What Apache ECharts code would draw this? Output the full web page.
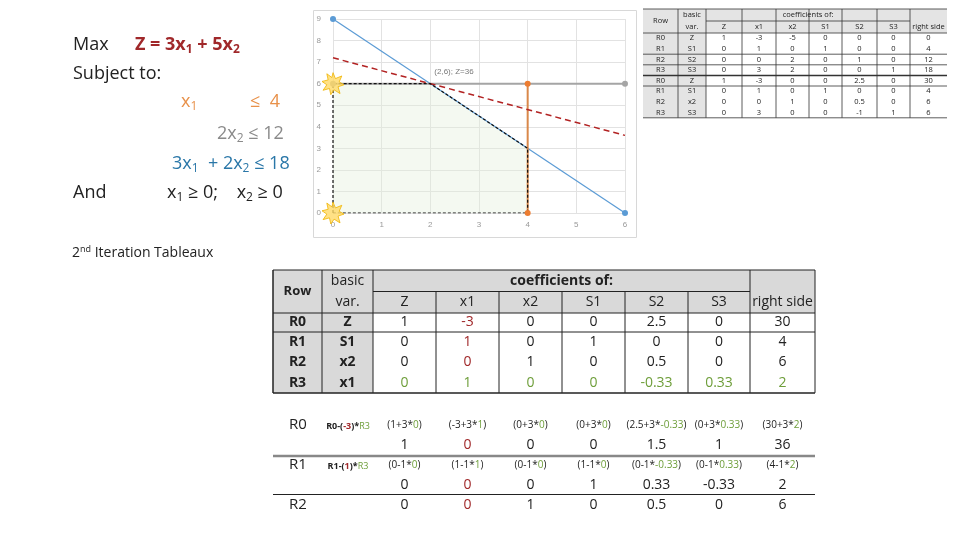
<!DOCTYPE html>
<html>
<head>
<meta charset="utf-8">
<script src="https://cdn.jsdelivr.net/npm/echarts@6/dist/echarts.min.js"></script>
<style>html,body{margin:0;padding:0;background:#fff}#main{width:960px;height:540px}</style>
</head>
<body>
<div id="main"></div>
<script>
// constraint lines in the x1/x2 plane
var blueLine = [[0, 9], [6, 0]];          // 3x1 + 2x2 = 18
var grayLine = [[0, 6], [6, 6]];          // 2x2 = 12
var orangeLine = [[4, 0], [4, 6]];        // x1 = 4
var zLine = [[0, 7.2], [6, 3.6]];         // 3x1 + 5x2 = 36
var feasible = [[0, 0], [0, 6], [2, 6], [4, 3], [4, 0], [0, 0]];
var feasibleTop = [[0, 6], [2, 6], [4, 3], [4, 0]];
var stars = [[0, 6], [0, 0]];

// small tableau (top right)
var smallHead = ['Z', 'x1', 'x2', 'S1', 'S2', 'S3', 'right side'];
var smallRows = [
  ['R0', 'Z', '1', '-3', '-5', '0', '0', '0', '0'],
  ['R1', 'S1', '0', '1', '0', '1', '0', '0', '4'],
  ['R2', 'S2', '0', '0', '2', '0', '1', '0', '12'],
  ['R3', 'S3', '0', '3', '2', '0', '0', '1', '18'],
  ['R0', 'Z', '1', '-3', '0', '0', '2.5', '0', '30'],
  ['R1', 'S1', '0', '1', '0', '1', '0', '0', '4'],
  ['R2', 'x2', '0', '0', '1', '0', '0.5', '0', '6'],
  ['R3', 'S3', '0', '3', '0', '0', '-1', '1', '6']
];

// 2nd iteration tableau
var midRows = [
  ['R0', 'Z', '1', '-3', '0', '0', '2.5', '0', '30'],
  ['R1', 'S1', '0', '1', '0', '1', '0', '0', '4'],
  ['R2', 'x2', '0', '0', '1', '0', '0.5', '0', '6'],
  ['R3', 'x1', '0', '1', '0', '0', '-0.33', '0.33', '2']
];
var r0Formula = ['(1+3*{g|0})', '(-3+3*{g|1})', '(0+3*{g|0})', '(0+3*{g|0})', '(2.5+3*{g|-0.33})', '(0+3*{g|0.33})', '(30+3*{g|2})'];
var r0Values = ['1', '0', '0', '0', '1.5', '1', '36'];
var r1Formula = ['(0-1*{g|0})', '(1-1*{g|1})', '(0-1*{g|0})', '(1-1*{g|0})', '(0-1*{g|-0.33})', '(0-1*{g|0.33})', '(4-1*{g|2})'];
var r1Values = ['0', '0', '0', '1', '0.33', '-0.33', '2'];
var r2Values = ['0', '0', '1', '0', '0.5', '0', '6'];

var RED = '#a0282a', GREEN = '#6e9e3a', FONT = 'Open Sans';
var g = [];

function txt(x, y, s, opt) {
  opt = opt || {};
  g.push({
    type: 'text', x: x, y: y, z: 10,
    style: Object.assign({
      text: s, fontFamily: FONT, fontSize: 14, fill: '#222',
      align: 'center', verticalAlign: 'middle'
    }, opt)
  });
}
function rect(x, y, w, h, fill, stroke, lw) {
  g.push({ type: 'rect', z: 5, shape: { x: x, y: y, width: w, height: h },
    style: { fill: fill || 'none', stroke: stroke || 'none', lineWidth: lw || 1 } });
}
function line(x1, y1, x2, y2, c, lw) {
  g.push({ type: 'line', z: 6, shape: { x1: x1, y1: y1, x2: x2, y2: y2 }, style: { stroke: c, lineWidth: lw || 1 } });
}

// ---- left text
var sub = { fontSize: 12, padding: [9, 0, 0, 0] };
txt(73, 45, 'Max', { align: 'left', fontSize: 18 });
txt(135, 45, '{r|Z = 3x}{rs|1}{r| + 5x}{rs|2}', { align: 'left', fontSize: 18,
  rich: { r: { fill: RED, fontWeight: 'bold', fontSize: 18, fontFamily: FONT }, rs: Object.assign({ fill: RED, fontWeight: 'bold', fontFamily: FONT }, sub) } });
txt(73, 74, 'Subject to:', { align: 'left', fontSize: 18 });
txt(181, 102, '{o|x}{os|1}', { align: 'left', rich: { o: { fill: '#e8914a', fontSize: 18, fontFamily: FONT }, os: Object.assign({ fill: '#e8914a', fontFamily: FONT }, sub) } });
txt(250, 102, '≤  4', { align: 'left', fontSize: 18, fill: '#e8914a' });
txt(217, 134, '{o|2x}{os|2}{o| ≤ 12}', { align: 'left', rich: { o: { fill: '#8a8a8a', fontSize: 18, fontFamily: FONT }, os: Object.assign({ fill: '#8a8a8a', fontFamily: FONT }, sub) } });
txt(172, 164, '{o|3x}{os|1}{o|  + 2x}{os|2}{o| ≤ 18}', { align: 'left', rich: { o: { fill: '#2a77a8', fontSize: 18, fontFamily: FONT }, os: Object.assign({ fill: '#2a77a8', fontFamily: FONT }, sub) } });
txt(73, 193, 'And', { align: 'left', fontSize: 18 });
txt(167, 193, '{o|x}{os|1}{o| ≥ 0;    x}{os|2}{o| ≥ 0}', { align: 'left', rich: { o: { fill: '#222', fontSize: 18, fontFamily: FONT }, os: Object.assign({ fill: '#222', fontFamily: FONT }, sub) } });
txt(72, 253, '2{sp|nd} Iteration Tableaux', { align: 'left', fontSize: 14,
  rich: { sp: { fontSize: 9, padding: [0, 0, 7, 0], fontFamily: FONT } } });

// ---- chart frame
rect(313.5, 10.5, 323, 227, 'none', '#d8d8d8', 1);

// ---- small tableau
(function () {
  var cx = [643, 678, 706, 742, 776, 809, 842, 877, 910, 947];
  var y0 = 9, hh = 12, rh = 10.6;
  var fs = 7.5;
  rect(cx[0], y0, cx[9] - cx[0], hh * 2, '#e4e4e4');
  rect(cx[0], y0 + hh * 2, cx[2] - cx[0], rh * 8, '#e4e4e4');
  rect(cx[2], y0 + hh * 2 + rh * 4, cx[9] - cx[2], rh, '#ffffff');
  txt((cx[0] + cx[1]) / 2, y0 + hh, 'Row', { fontSize: fs });
  txt((cx[1] + cx[2]) / 2, y0 + hh * 0.5, 'basic', { fontSize: fs });
  txt((cx[1] + cx[2]) / 2, y0 + hh * 1.5, 'var.', { fontSize: fs });
  txt((cx[2] + cx[8]) / 2, y0 + hh * 0.5, 'coefficients of:', { fontSize: fs });
  smallHead.forEach(function (h, i) { txt((cx[i + 2] + cx[i + 3]) / 2, y0 + hh * 1.5, h, { fontSize: fs }); });
  smallRows.forEach(function (r, j) {
    var y = y0 + hh * 2 + rh * (j + 0.5);
    r.forEach(function (v, i) { txt((cx[i] + cx[i + 1]) / 2, y, v, { fontSize: fs }); });
  });
  for (var i = 1; i < 9; i++) line(cx[i], y0, cx[i], y0 + hh * 2 + rh * 8, '#333', 0.8);
  line(cx[2], y0 + hh, cx[8], y0 + hh, '#333', 0.8);
  [0, 2, 3, 4, 5, 8].forEach(function (k) {
    var y = y0 + hh * 2 + rh * k - (k === 0 ? 0 : 0);
    line(cx[0], k === 0 ? y0 : y, cx[9], k === 0 ? y0 : y, '#333', k === 4 ? 1.5 : 0.8);
  });
  line(cx[0], y0 + hh * 2, cx[9], y0 + hh * 2, '#333', 0.8);
})();

// ---- 2nd iteration tableau
var mx = [273, 322, 373, 436, 499, 562, 625, 688, 750, 815];
(function () {
  var y0 = 270, hh = 21.5, rh0 = 19, rh = 20.3;
  rect(mx[0], y0, mx[9] - mx[0], hh * 2, '#d9d9d9');
  rect(mx[0], y0 + hh * 2, mx[2] - mx[0], rh0 + rh * 3, '#d9d9d9');
  txt((mx[0] + mx[1]) / 2, y0 + hh, 'Row', { fontWeight: 'bold', fontSize: 13 });
  txt((mx[1] + mx[2]) / 2, y0 + hh * 0.5, 'basic', { fontSize: 14 });
  txt((mx[1] + mx[2]) / 2, y0 + hh * 1.5, 'var.', { fontSize: 14 });
  txt((mx[2] + mx[8]) / 2, y0 + hh * 0.5, 'coefficients of:', { fontWeight: 'bold', fontSize: 14 });
  smallHead.forEach(function (h, i) { txt((mx[i + 2] + mx[i + 3]) / 2, y0 + hh * 1.5, h, { fontSize: 14 }); });
  midRows.forEach(function (r, j) {
    var y = j === 0 ? y0 + hh * 2 + rh0 / 2 : y0 + hh * 2 + rh0 + rh * (j - 0.5);
    r.forEach(function (v, i) {
      var c = '#222';
      if (j === 3 && i >= 2) c = GREEN;
      else if (i === 3 && j < 3) c = RED;
      txt((mx[i] + mx[i + 1]) / 2, y, v, { fontSize: 14, fill: c, fontWeight: i < 2 ? 'bold' : 'normal' });
    });
  });
  var yb = y0 + hh * 2 + rh0 + rh * 3;
  line(mx[0], y0, mx[9], y0, '#222', 1);
  line(mx[2], y0 + hh, mx[8], y0 + hh, '#222', 1);
  line(mx[0], y0 + hh * 2, mx[9], y0 + hh * 2, '#222', 1);
  line(mx[0], y0 + hh * 2 + rh0, mx[9], y0 + hh * 2 + rh0, '#222', 1);
  line(mx[0], yb, mx[9], yb, '#222', 1.5);
  for (var i = 0; i < 10; i++) {
    if (i === 9) { line(mx[i], y0, mx[i], yb, '#222', 1); continue; }
    if (i >= 3 && i <= 7) line(mx[i], y0 + hh, mx[i], yb, '#222', 1);
    else line(mx[i], y0, mx[i], yb, '#222', i === 0 ? 1.5 : 1);
  }
})();

// ---- row operations
(function () {
  var rich = { g: { fill: GREEN, fontSize: 10, fontFamily: FONT } };
  var c = function (i) { return (mx[i + 2] + mx[i + 3]) / 2; };
  txt(298, 425, 'R0', { fontSize: 15 });
  txt(348, 426, '{b|R0-(}{r|-3}{b|)*}{g|R3}', { rich: { b: { fontSize: 9, fontWeight: 'bold', fontFamily: FONT }, r: { fontSize: 9, fontWeight: 'bold', fill: RED, fontFamily: FONT }, g: { fontSize: 9, fill: GREEN, fontFamily: FONT } } });
  r0Formula.forEach(function (f, i) { txt(c(i), 425, f, { fontSize: 10, rich: rich }); });
  r0Values.forEach(function (v, i) { txt(c(i), 445, v, { fontSize: 14, fill: i === 1 ? RED : '#222' }); });
  line(273, 456, 815, 456, '#888', 2.5);
  txt(298, 465, 'R1', { fontSize: 15 });
  txt(348, 466, '{b|R1-(}{r|1}{b|)*}{g|R3}', { rich: { b: { fontSize: 9, fontWeight: 'bold', fontFamily: FONT }, r: { fontSize: 9, fontWeight: 'bold', fill: RED, fontFamily: FONT }, g: { fontSize: 9, fill: GREEN, fontFamily: FONT } } });
  r1Formula.forEach(function (f, i) { txt(c(i), 465, f, { fontSize: 10, rich: rich }); });
  r1Values.forEach(function (v, i) { txt(c(i), 485, v, { fontSize: 14, fill: i === 1 ? RED : '#222' }); });
  line(273, 494.5, 815, 494.5, '#222', 1);
  txt(298, 505, 'R2', { fontSize: 15 });
  r2Values.forEach(function (v, i) { txt(c(i), 505, v, { fontSize: 14, fill: i === 1 ? RED : '#222' }); });
})();

var starPath = 'path://M50,0 L61,27 L90,15 L78,42 L100,55 L73,64 L82,95 L55,78 L40,100 L34,72 L5,80 L22,55 L0,40 L28,33 L22,5 L45,22 Z';

var myChart = echarts.init(document.getElementById('main'));
var option = {
  animation: false,
  grid: { left: 333, right: 335, top: 19, bottom: 327 },
  xAxis: {
    type: 'value', min: 0, max: 6, interval: 1,
    axisLine: { show: false }, axisTick: { show: false },
    axisLabel: { color: '#999', fontSize: 8, margin: 8 },
    splitLine: { lineStyle: { color: '#e2e2e2' } }
  },
  yAxis: {
    type: 'value', min: 0, max: 9, interval: 1,
    axisLine: { show: false }, axisTick: { show: false },
    axisLabel: { color: '#999', fontSize: 8, margin: 12 },
    splitLine: { lineStyle: { color: '#e2e2e2' } }
  },
  series: [
    { type: 'line', data: feasibleTop, symbol: 'none', lineStyle: { width: 0 },
      areaStyle: { color: 'rgba(226,239,218,0.55)', origin: 'start' } },
    { type: 'line', data: blueLine, symbol: 'circle', symbolSize: 6,
      itemStyle: { color: '#5b9bd5' }, lineStyle: { color: '#5b9bd5', width: 1.2 } },
    { type: 'line', data: grayLine, symbol: 'circle', symbolSize: 6,
      itemStyle: { color: '#a5a5a5' }, lineStyle: { color: '#a5a5a5', width: 2 } },
    { type: 'line', data: orangeLine, symbol: 'circle', symbolSize: 6,
      itemStyle: { color: '#ed7d31' }, lineStyle: { color: '#d9884a', width: 2 } },
    { type: 'line', data: zLine, symbol: 'none',
      lineStyle: { color: '#b22222', width: 1.5, type: [6, 4] } },
    { type: 'line', data: feasible, symbol: 'none',
      lineStyle: { color: '#111', width: 1.2, type: [3, 2] } },
    { type: 'scatter', data: stars, symbol: starPath, symbolSize: 22,
      itemStyle: { color: '#ffd966', borderColor: '#f0b400', borderWidth: 1 }, z: 5 },
    { type: 'scatter', data: [[2, 6]], symbolSize: 0,
      label: { show: true, formatter: '(2,6); Z=36', position: [4, -16], color: '#555', fontSize: 8 } }
  ],
  graphic: g
};
myChart.setOption(option);
</script>
</body>
</html>
